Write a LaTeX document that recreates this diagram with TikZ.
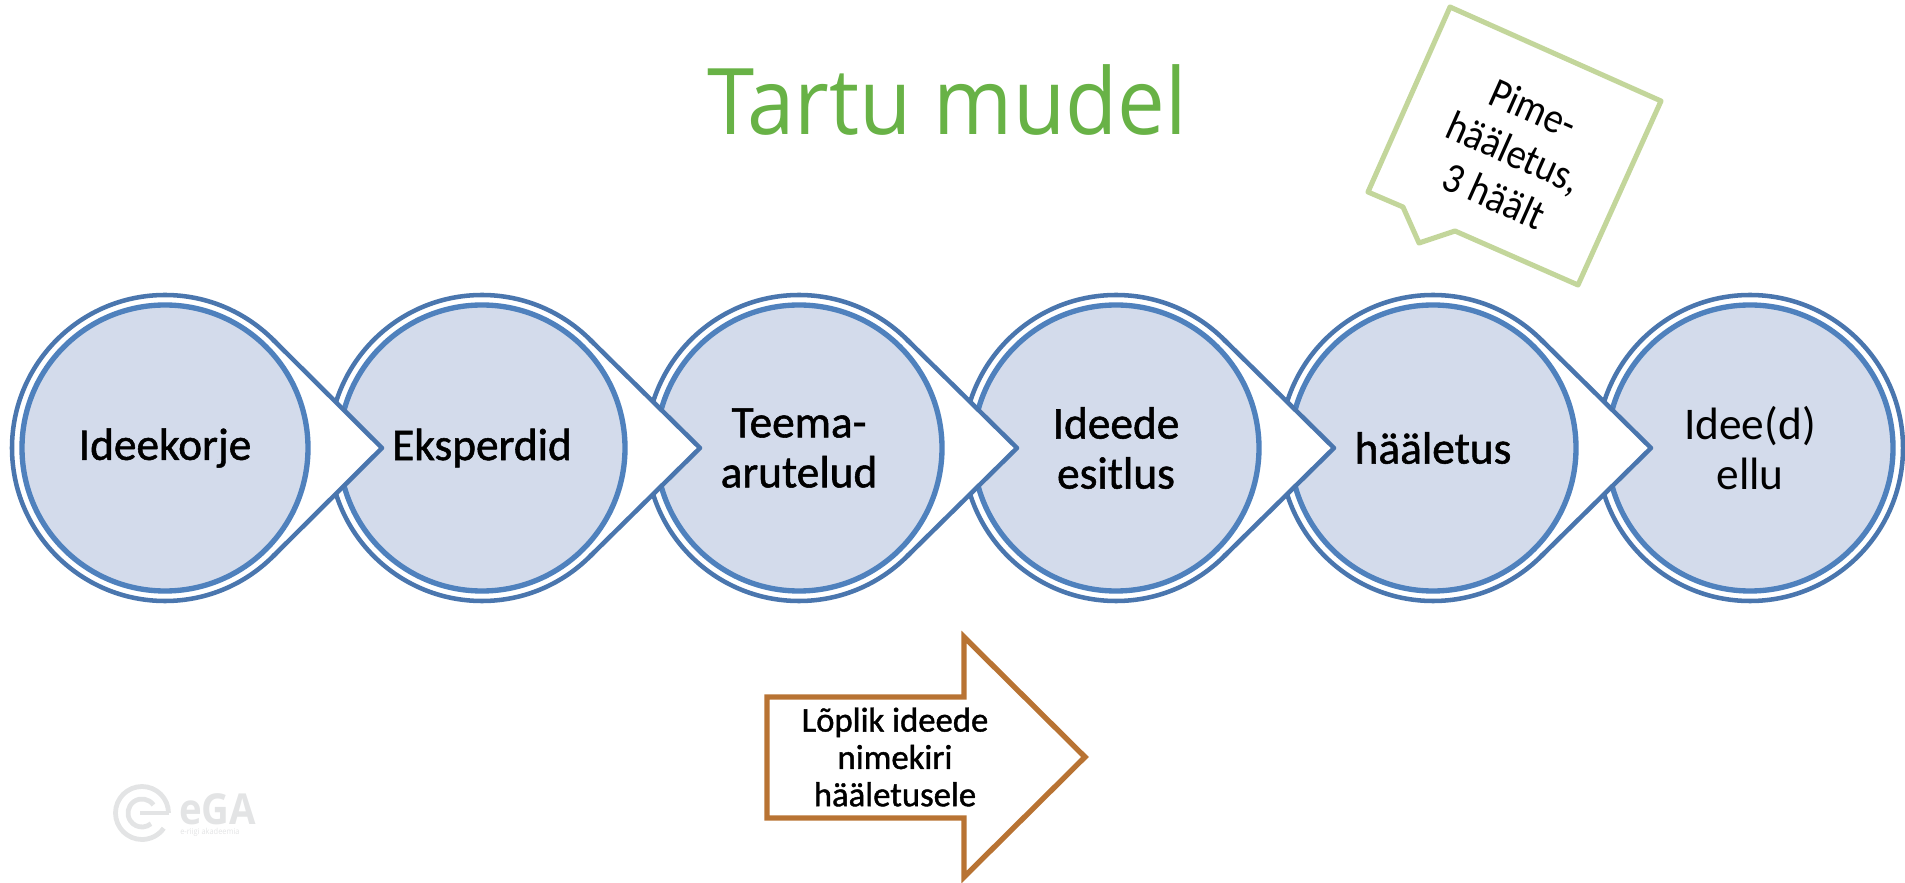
\documentclass[tikz,border=0pt]{standalone}
\usepackage{fontspec}
\setmainfont{Carlito}
\newfontfamily\heavyfont[FakeBold=1.2]{Carlito}
\newfontfamily\slimfont[FakeStretch=0.9]{Carlito}
\newfontfamily\titlefont[FakeStretch=0.925]{Open Sans}
\newfontfamily\logofont[FakeStretch=0.9]{Open Sans}
\usetikzlibrary{positioning}
\definecolor{ringblue}{HTML}{4A76AE}
\definecolor{innerblue}{HTML}{4F81BD}
\definecolor{discfill}{HTML}{D3DBEB}
\definecolor{calloutgreen}{HTML}{C3D69B}
\definecolor{arrowbrown}{HTML}{B87333}
\definecolor{titlegreen}{HTML}{68B246}
\definecolor{logogray}{HTML}{E3E4E5}
\tikzstyle{outer} = [circle, draw=ringblue, line width=3.4pt, fill=white, minimum size=229.5pt, outer sep=0pt, inner sep=0pt]
\tikzstyle{inner} = [circle, draw=innerblue, line width=4pt, fill=discfill, minimum size=214.5pt, outer sep=0pt, inner sep=0pt, align=center, font=\heavyfont\fontsize{34}{37.5}\selectfont]
\tikzstyle{drop} = [draw=ringblue, line width=3.4pt, fill=white, line join=round]
\begin{document}
\begin{tikzpicture}[x=0.75pt,y=0.75pt]
\path[use as bounding box] (0,0) rectangle (1905,882);

\node (title) [text=titlegreen, font=\titlefont\fontsize{69}{69}\selectfont] at (947,782) {Tartu mudel};

\draw[calloutgreen, line width=3.8pt, line join=round] (1450,875) -- (1661,781) -- (1578,597) -- (1455,651) -- (1419,639) -- (1403,675) -- (1368,690) -- cycle;
\node (pime) [rotate=-24, align=center, font=\slimfont\fontsize{32}{36}\selectfont] at (1514,730) {Pime-\\hääletus,\\3 häält};

% right to left, each drop lies over the next disc
\node (out6) [outer] at (1750,434) {};
\coordinate (tip5) at (1651,434);
\node (in6) [inner, font=\fontsize{34}{37.5}\selectfont] at (1750,434) {Idee(d)\\ellu};

\node (out5) [outer] at (1433,434) {};
\draw[drop] (out5.45) -- (tip5) -- (out5.-45);
\node (in5) [inner] at (1433,434) {hääletus};
\coordinate (tip4) at (1334,434);

\node (out4) [outer] at (1116,434) {};
\draw[drop] (out4.45) -- (tip4) -- (out4.-45);
\node (in4) [inner] at (1116,434) {Ideede\\esitlus};
\coordinate (tip3) at (1017,434);

\node (out3) [outer] at (799,434) {};
\draw[drop] (out3.45) -- (tip3) -- (out3.-45);
\node (in3) [inner] at (799,434) {Teema-\\arutelud};
\coordinate (tip2) at (700,434);

\node (out2) [outer] at (482,434) {};
\draw[drop] (out2.45) -- (tip2) -- (out2.-45);
\node (in2) [inner] at (482,434) {Eksperdid};
\coordinate (tip1) at (382,434);

\node (out1) [outer] at (165,434) {};
\draw[drop] (out1.45) -- (tip1) -- (out1.-45);
\node (in1) [inner] at (165,434) {Ideekorje};

\draw[arrowbrown, line width=4pt, line join=miter] (767,185) -- (964,185) -- (964,245) -- (1085,125) -- (964,5) -- (964,64) -- (767,64) -- cycle;
\node (list) [align=center, font=\heavyfont\fontsize{26}{28}\selectfont] at (895,125) {Lõplik ideede\\nimekiri\\hääletusele};

% logo
\draw[logogray, line width=3.6pt] (142,69) ++(0:26.5) arc (0:325:26.5);
\draw[logogray, line width=3.6pt] (142,69) ++(35:14) arc (35:310:14);
\draw[logogray, line width=3.6pt] (140,69) -- (168.5,69);
\node (ega) [text=logogray, anchor=west, inner sep=0pt, font=\logofont\bfseries\fontsize{32}{32}\selectfont] at (179,73) {eGA};
\node (akad) [text=logogray, anchor=west, inner sep=0pt, font=\logofont\fontsize{6.2}{7}\selectfont] at (180,50) {e-riigi akadeemia};
\end{tikzpicture}
\end{document}
